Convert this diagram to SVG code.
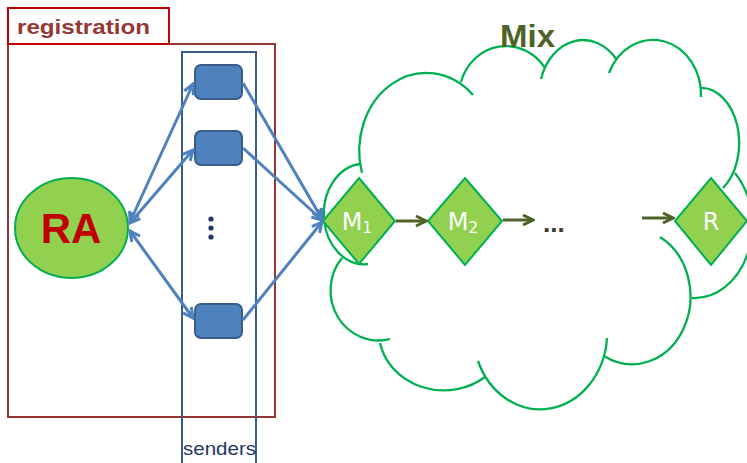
<svg xmlns="http://www.w3.org/2000/svg" width="747" height="463" viewBox="0 0 747 463">
<style>
.cloud{fill:none;stroke:#00b050;stroke-width:2.3}
.snd{fill:#4f81bd;stroke:#385d8a;stroke-width:2}
.dia{fill:#92d050;stroke:#00b050;stroke-width:2}
.blue{stroke:#4f81bd;stroke-width:3;fill:none}
.olive{stroke:#4f6228;stroke-width:3;fill:none}
.lbl{font-family:"Liberation Sans","DejaVu Sans",sans-serif}
.dl{font-family:"DejaVu Sans","Liberation Sans",sans-serif;fill:#ffffff;font-size:24px;text-anchor:middle}
</style>
<defs>
<marker id="ab" markerUnits="userSpaceOnUse" viewBox="0 0 14 14" markerWidth="14" markerHeight="14" refX="12" refY="7" orient="auto-start-reverse">
<path d="M2,2 L12,7 L2,12" fill="none" stroke="#4f81bd" stroke-width="3" stroke-linejoin="miter"/>
</marker>
<marker id="ao" markerUnits="userSpaceOnUse" viewBox="0 0 14 14" markerWidth="14" markerHeight="14" refX="12" refY="7" orient="auto">
<path d="M2,2 L12,7 L2,12" fill="none" stroke="#4f6228" stroke-width="3"/>
</marker>
</defs>
<rect width="747" height="463" fill="#ffffff"/>

<g id="registration">
<rect x="8" y="44" width="267" height="373" fill="none" stroke="#953735" stroke-width="2"/>
<rect x="8" y="8" width="161" height="36" fill="#ffffff" stroke="#c00000" stroke-width="2"/>
<text class="lbl" x="17" y="34" font-size="21" font-weight="bold" fill="#953735" textLength="133" lengthAdjust="spacingAndGlyphs">registration</text>
</g>

<g id="senders">
<rect x="182" y="52" width="74" height="420" fill="none" stroke="#385d8a" stroke-width="2"/>
<text class="lbl" x="183" y="455" font-size="19" fill="#1f3864" textLength="73" lengthAdjust="spacingAndGlyphs">senders</text>
</g>

<g id="mix">
<path class="cloud" d="M362,173 A67,78 0 0 1 473,95"/>
<path class="cloud" d="M461,82 A47,50 0 0 1 545,68"/>
<path class="cloud" d="M541,79 A44,55 0 0 1 617,60"/>
<path class="cloud" d="M609,73 A48,55 0 0 1 701,97"/>
<path class="cloud" d="M700,88 A38,55 0 0 1 723,188"/>
<path class="cloud" d="M735,173 A58,73 0 0 1 692,298"/>
<path class="cloud" d="M660,237 A57,66 0 0 1 604,356"/>
<path class="cloud" d="M607,338 A67,77 0 0 1 478,361"/>
<path class="cloud" d="M485,377 A65,59 0 0 1 380,343"/>
<path class="cloud" d="M390,339 A48,50 0 0 1 342,258"/>
<path class="cloud" d="M368,264 A40,50 0 0 1 360,164"/>
<text class="lbl" x="500" y="47" font-size="31" font-weight="bold" fill="#4f6228" textLength="55" lengthAdjust="spacingAndGlyphs">Mix</text>
</g>

<g id="RA">
<ellipse cx="71.5" cy="228" rx="56.5" ry="50" fill="#92d050" stroke="#00b050" stroke-width="2"/>
<text class="lbl" x="71" y="243" font-size="42" font-weight="bold" fill="#c00000" text-anchor="middle">RA</text>
</g>

<g id="sender1"><rect class="snd" x="195" y="65" width="47" height="34" rx="6"/></g>
<g id="sender2"><rect class="snd" x="195" y="131" width="47" height="34" rx="6"/></g>
<g id="sender-dots" fill="#1f3864">
<circle cx="211" cy="219" r="2.6"/>
<circle cx="211" cy="228" r="2.6"/>
<circle cx="211" cy="237" r="2.6"/>
</g>
<g id="sender3"><rect class="snd" x="195" y="304" width="47" height="34" rx="6"/></g>

<g id="M1">
<polygon class="dia" points="359,178 395,221 359,264 323,221"/>
<text class="dl" x="357" y="230">M<tspan font-size="15" dy="3">1</tspan></text>
</g>
<g id="M2">
<polygon class="dia" points="465,178 502,221 465,265 428,221"/>
<text class="dl" x="463" y="230">M<tspan font-size="15" dy="3">2</tspan></text>
</g>
<g id="R">
<polygon class="dia" points="711,178 747,221 711,265 675,221"/>
<text class="dl" x="711" y="230" font-size="26">R</text>
</g>
<text class="lbl" x="543" y="232" font-size="26" font-weight="bold" fill="#3a3a30">...</text>

<g id="connectors">
<line class="blue" x1="130" y1="222" x2="193" y2="84" marker-start="url(#ab)" marker-end="url(#ab)"/>
<line class="blue" x1="130" y1="223" x2="193" y2="150" marker-start="url(#ab)" marker-end="url(#ab)"/>
<line class="blue" x1="130" y1="231" x2="193" y2="318" marker-start="url(#ab)" marker-end="url(#ab)"/>
<line class="blue" x1="243" y1="83" x2="322" y2="219" marker-end="url(#ab)"/>
<line class="blue" x1="243" y1="148" x2="322" y2="220" marker-end="url(#ab)"/>
<line class="blue" x1="243" y1="320" x2="322" y2="222" marker-end="url(#ab)"/>
<line class="olive" x1="396" y1="221" x2="426" y2="221" marker-end="url(#ao)"/>
<line class="olive" x1="503" y1="220" x2="533" y2="220" marker-end="url(#ao)"/>
<line class="olive" x1="642" y1="218" x2="673" y2="218" marker-end="url(#ao)"/>
</g>
</svg>
